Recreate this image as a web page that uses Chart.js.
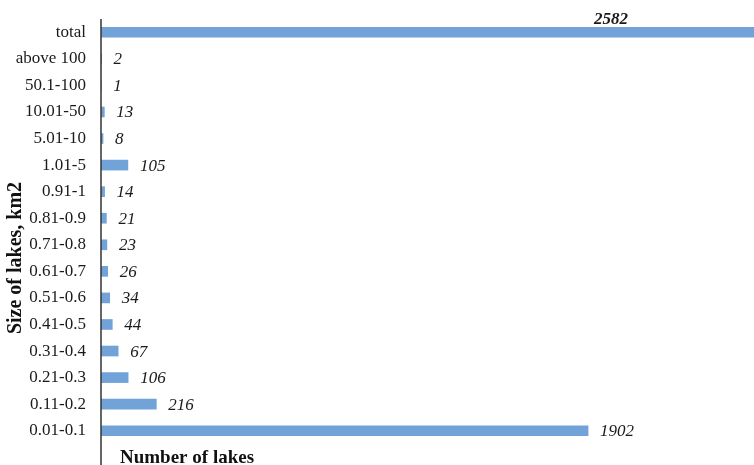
<!DOCTYPE html>
<html>
<head>
<meta charset="utf-8">
<script src="https://cdn.jsdelivr.net/npm/chart.js@4"></script>
<style>
html,body{margin:0;padding:0;background:#fff;}
#wrap{width:754px;height:465px;position:relative;}
</style>
</head>
<body>
<div id="wrap"><canvas id="c" width="754" height="465"></canvas></div>
<script>
const categories = ["total","above 100","50.1-100","10.01-50","5.01-10","1.01-5","0.91-1","0.81-0.9","0.71-0.8","0.61-0.7","0.51-0.6","0.41-0.5","0.31-0.4","0.21-0.3","0.11-0.2","0.01-0.1"];
const lakeCounts = [2582,2,1,13,8,105,14,21,23,26,34,44,67,106,216,1902];
const yTitle = "Size of lakes, km2";
const xTitle = "Number of lakes";
const SERIF = "'Liberation Serif', serif";

const decor = {
  id: 'decor',
  afterDatasetsDraw(chart) {
    const ctx = chart.ctx;
    const ca = chart.chartArea;
    const meta = chart.getDatasetMeta(0);
    ctx.save();
    // axis line
    ctx.strokeStyle = '#333';
    ctx.lineWidth = 1.5;
    ctx.beginPath();
    ctx.moveTo(ca.left, ca.top);
    ctx.lineTo(ca.left, chart.height);
    ctx.stroke();
    // data labels
    ctx.fillStyle = '#1a1a1a';
    ctx.textBaseline = 'middle';
    meta.data.forEach((bar, i) => {
      const v = lakeCounts[i];
      if (bar.x > ca.right) {
        ctx.font = "italic bold 17px " + SERIF;
        ctx.textAlign = 'center';
        ctx.fillText(String(v), ca.right - 143, bar.y - 13);
      } else {
        ctx.font = "italic 17px " + SERIF;
        ctx.textAlign = 'left';
        ctx.fillText(String(v), bar.x + 12, bar.y + 1);
      }
    });
    // titles
    ctx.fillStyle = '#111';
    ctx.font = "bold 19px " + SERIF;
    ctx.textAlign = 'left';
    ctx.fillText(xTitle, ca.left + 19, 458);
    ctx.font = "bold 20px " + SERIF;
    ctx.translate(16, 258);
    ctx.rotate(-Math.PI / 2);
    ctx.textAlign = 'center';
    ctx.fillText(yTitle, 0, 0);
    ctx.restore();
  }
};

new Chart(document.getElementById('c'), {
  type: 'bar',
  data: {
    labels: categories,
    datasets: [{
      data: lakeCounts,
      backgroundColor: '#71A2D8',
      barThickness: 10
    }]
  },
  options: {
    indexAxis: 'y',
    responsive: false,
    animation: false,
    layout: { padding: { top: 19, bottom: 21, left: 0, right: 0 } },
    plugins: { legend: { display: false }, tooltip: { enabled: false } },
    scales: {
      x: {
        display: false,
        min: 0,
        max: 2550
      },
      y: {
        grid: { display: false, drawTicks: false },
        border: { display: false },
        ticks: { font: { family: SERIF, size: 17 }, color: '#1a1a1a', padding: 15 },
        afterFit(scale) { scale.width = 101; scale.paddingTop = 0; scale.paddingBottom = 0; }
      }
    }
  },
  plugins: [decor]
});
</script>
</body>
</html>
